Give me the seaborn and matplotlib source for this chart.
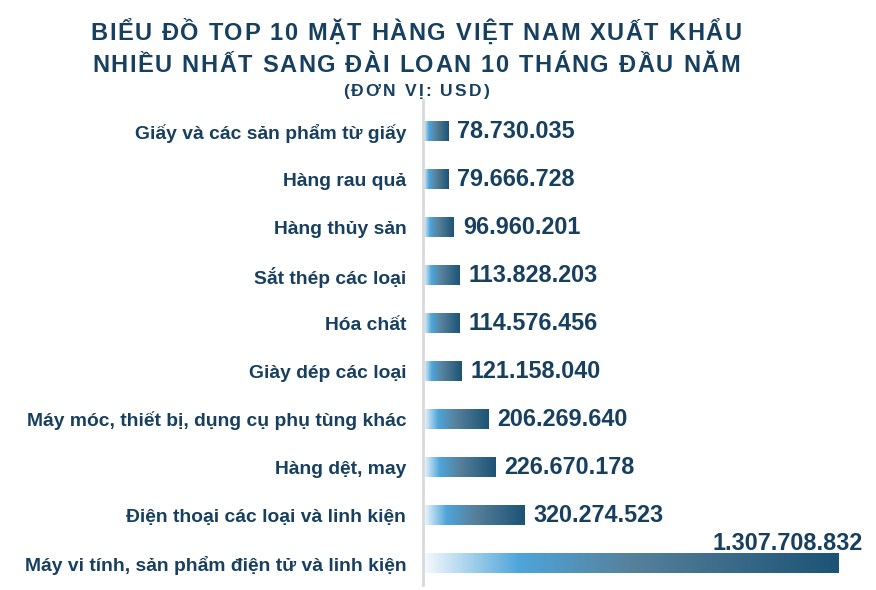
import unicodedata
import numpy as np
import pandas as pd
import matplotlib
matplotlib.use("Agg")
import matplotlib.pyplot as plt
from matplotlib.colors import LinearSegmentedColormap
from matplotlib.font_manager import FontProperties
import seaborn as sns

categories = [
    "Giấy và các sản phẩm từ giấy",
    "Hàng rau quả",
    "Hàng thủy sản",
    "Sắt thép các loại",
    "Hóa chất",
    "Giày dép các loại",
    "Máy móc, thiết bị, dụng cụ phụ tùng khác",
    "Hàng dệt, may",
    "Điện thoại các loại và linh kiện",
    "Máy vi tính, sản phẩm điện tử và linh kiện",
]
values = [78730035, 79666728, 96960201, 113828203, 114576456,
          121158040, 206269640, 226670178, 320274523, 1307708832]
title_lines = ["BIỂU ĐỒ TOP 10 MẶT HÀNG VIỆT NAM XUẤT KHẨU",
               "NHIỀU NHẤT SANG ĐÀI LOAN 10 THÁNG ĐẦU NĂM",
               "(ĐƠN VỊ: USD)"]

def fmt(v):
    return f"{v:,}".replace(",", ".")

sns.set_theme(style="white")
plt.rcParams['font.family'] = ['Liberation Sans', 'DejaVu Sans']

navy = "#173f5f"
df = pd.DataFrame({"cat": categories, "val": values})

W, H = 876, 590
fig = plt.figure(figsize=(W / 100, H / 100), dpi=100)
ax = fig.add_axes([423/W, 5/H, 443/W, 485/H])
sns.barplot(data=df, x="val", y="cat", orient="h", ax=ax, width=0.40,
            color="#1c5375", saturation=1)

cmap = LinearSegmentedColormap.from_list(
    "grad", [(0.0, "#f7fafd"), (0.23, "#4ea5da"), (0.5, "#56819b"), (1.0, "#1c5375")])
grad = np.linspace(0, 1, 256).reshape(1, -1)

xmax = max(values) * 443 / 416
for p in ax.patches:
    x0, y0 = p.get_x(), p.get_y()
    w, h = p.get_width(), p.get_height()
    p.set_facecolor("none")
    p.set_edgecolor("none")
    im = ax.imshow(grad, cmap=cmap, aspect="auto",
                   extent=[x0, x0 + w, y0 + h, y0], zorder=2)
    im.set_clip_path(p)

ax.set_xlim(0, xmax)
ax.set_ylim(9.458, -0.646)

for i, v in enumerate(values):
    if i == len(values) - 1:
        ax.annotate(fmt(v), xy=(v, i), xytext=(24, 20), textcoords="offset pixels",
                    ha="right", va="center", fontsize=16.8, fontweight="bold", color=navy)
    else:
        ax.annotate(fmt(v), xy=(v, i), xytext=(9, 0), textcoords="offset pixels",
                    ha="left", va="center", fontsize=16.8, fontweight="bold", color=navy)

ax.set_xlabel("")
ax.set_ylabel("")
ax.set_xticks([])
ax.tick_params(axis="y", length=0, pad=12)
for lab in ax.get_yticklabels():
    lab.set_fontsize(13.9)
    lab.set_fontweight("bold")
    lab.set_color(navy)
for s in ["top", "right", "bottom"]:
    ax.spines[s].set_visible(False)
ax.spines["left"].set_color("#d9d9d9")
ax.spines["left"].set_linewidth(2)

renderer = fig.canvas.get_renderer()

def spaced_text(s, cx, base_y, size, spacing):
    s = unicodedata.normalize("NFC", s)
    fp = FontProperties(family=['Liberation Sans', 'DejaVu Sans'], weight="bold", size=size)
    ref_w = renderer.get_text_width_height_descent("H", fp, ismath=False)[0]
    def adv(prefix):
        return renderer.get_text_width_height_descent(prefix + "H", fp, ismath=False)[0] - ref_w
    total = adv(s) + spacing * (len(s) - 1)
    start = cx - total / 2
    for i, ch in enumerate(s):
        if ch == " ":
            continue
        x = start + adv(s[:i]) + spacing * i
        fig.text(x / W, 1 - base_y / H, ch, ha="left", va="baseline",
                 fontproperties=fp, color=navy)

spaced_text(title_lines[0], 416, 40, 17, 1.6)
spaced_text(title_lines[1], 416, 72, 17, 1.6)
spaced_text(title_lines[2], 416, 96, 12.5, 2.2)

fig.savefig("out.png", dpi=100)
